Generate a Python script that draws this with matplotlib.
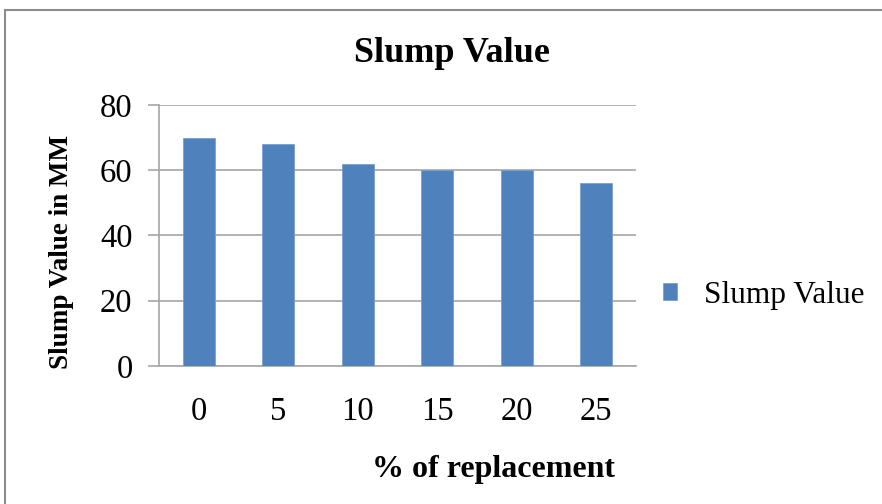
import matplotlib.pyplot as plt
from matplotlib.patches import Rectangle

categories = ['0', '5', '10', '15', '20', '25']
slump = [70, 68, 62, 60, 60, 56]
yticks = [0, 20, 40, 60, 80]

plt.rcParams['font.family'] = ['Liberation Serif', 'DejaVu Serif']

W, H = 882, 504
fig = plt.figure(figsize=(W / 100, H / 100), dpi=100)
fig.patch.set_facecolor('white')

# outer chart border
fig.patches.append(Rectangle((5 / W, -0.05), 1.1, (H - 10) / H + 0.05,
                             transform=fig.transFigure, fill=False,
                             edgecolor='#8c8c8c', linewidth=1.5))

ax = fig.add_axes([159 / W, 1 - 366 / H, (636 - 159) / W, (366 - 105) / H])
x = range(len(categories))
ax.bar(x, slump, width=0.4, color='#4f81bd', edgecolor='#7ba0cd',
       linewidth=0.6, label='Slump Value', zorder=3)
ax.set_xlim(-0.5, len(categories) - 0.5)
ax.set_ylim(0, 80)
ax.set_yticks(yticks)
ax.set_xticks(list(x))
ax.set_xticklabels(categories)
ax.grid(axis='y', color='#a6a6a6', linewidth=1.2, zorder=0)
ax.tick_params(axis='y', length=8, color='#a6a6a6', width=1.2, labelsize=23.5, pad=11)
ax.tick_params(axis='x', length=0, labelsize=23.5, pad=22)
for s in ['top', 'right']:
    ax.spines[s].set_visible(False)
for s in ['left', 'bottom']:
    ax.spines[s].set_color('#a6a6a6')
    ax.spines[s].set_linewidth(1.2)

fig.text(452 / W, 1 - 53 / H, 'Slump Value', ha='center', va='center',
         fontsize=26, fontweight='bold')
fig.text(494 / W, 1 - 470 / H, '% of replacement', ha='center', va='center',
         fontsize=23, fontweight='bold')
fig.text(62 / W, 1 - 252 / H, 'Slump Value in MM', ha='center', va='center',
         rotation=90, fontsize=19.5, fontweight='bold')

ax.legend(loc='center left', bbox_to_anchor=(663 / W, 1 - 295 / H),
          bbox_transform=fig.transFigure, frameon=False, fontsize=22.5,
          borderpad=0, borderaxespad=0,
          handlelength=0.45, handleheight=0.45, handletextpad=0.85)

fig.savefig('out.png', dpi=100)
